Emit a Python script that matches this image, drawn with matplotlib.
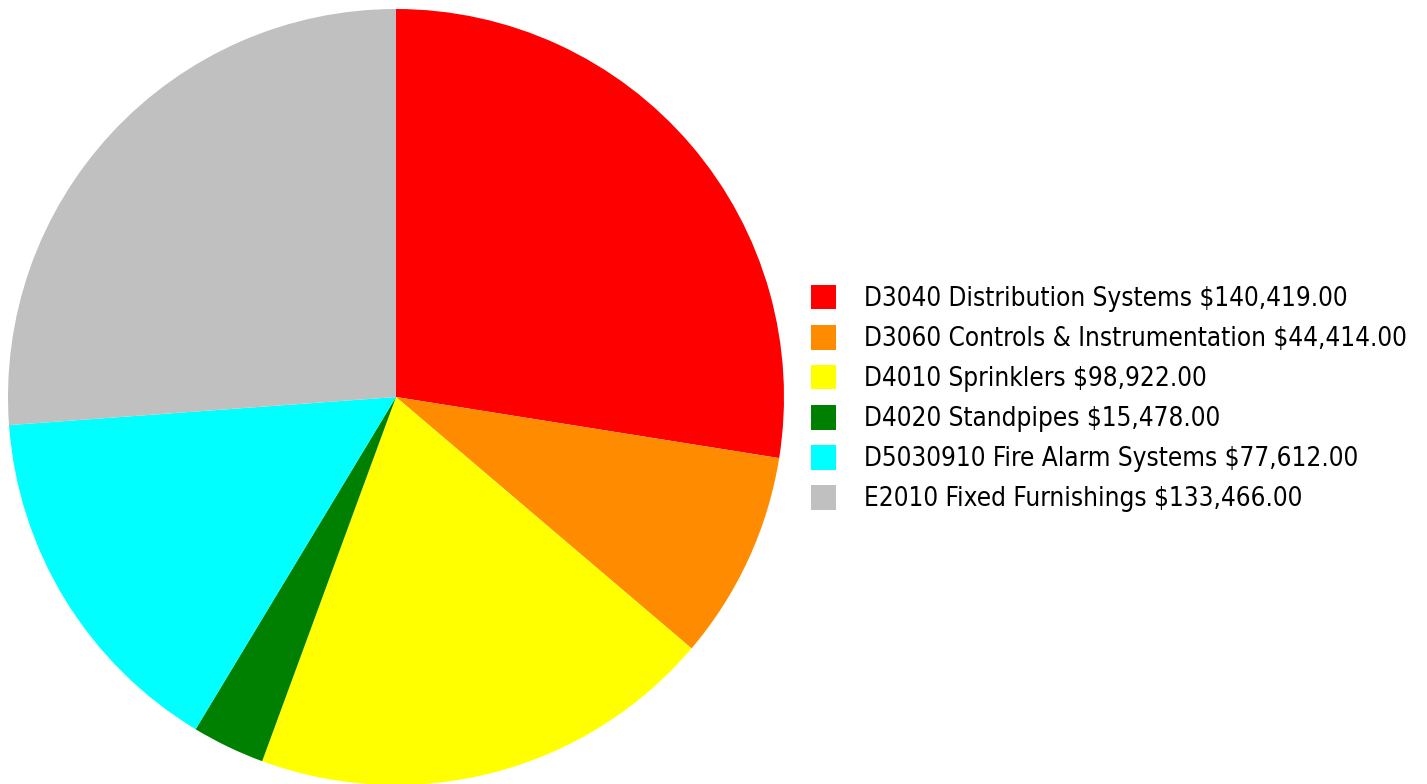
import matplotlib
matplotlib.use("Agg")
import matplotlib.pyplot as plt
from matplotlib.patches import Rectangle

categories = [
    "D3040 Distribution Systems",
    "D3060 Controls & Instrumentation",
    "D4010 Sprinklers",
    "D4020 Standpipes",
    "D5030910 Fire Alarm Systems",
    "E2010 Fixed Furnishings",
]
costs = [140419.00, 44414.00, 98922.00, 15478.00, 77612.00, 133466.00]
colors = ["#ff0000", "#ff8c00", "#ffff00", "#008000", "#00ffff", "#c0c0c0"]

W, H = 1427, 784
fig = plt.figure(figsize=(W / 100, H / 100), dpi=100)

# pie: centre (396, 397) px from top-left, radius 388 px
cx, cy, r = 396, 397, 388
ax = fig.add_axes([(cx - r) / W, (H - cy - r) / H, 2 * r / W, 2 * r / H])
ax.pie(costs, colors=colors, startangle=90, counterclock=False, radius=1.0,
       wedgeprops=dict(linewidth=0))
ax.set_xlim(-1, 1)
ax.set_ylim(-1, 1)
ax.set_aspect("equal")
ax.axis("off")

# legend drawn by hand
row0, step = 297, 40
for i, (name, val, c) in enumerate(zip(categories, costs, colors)):
    y = row0 + i * step
    fig.patches.append(Rectangle((811 / W, (H - y - 12.5) / H), 25 / W, 25 / H,
                                 transform=fig.transFigure, facecolor=c,
                                 edgecolor="none"))
    fig.text(864 / W, (H - y - 2) / H, f"{name} ${val:,.2f}", fontsize=18.7,
             family="DejaVu Sans", fontstretch="condensed",
             va="center", ha="left", color="black")

fig.savefig("out.png", dpi=100)
